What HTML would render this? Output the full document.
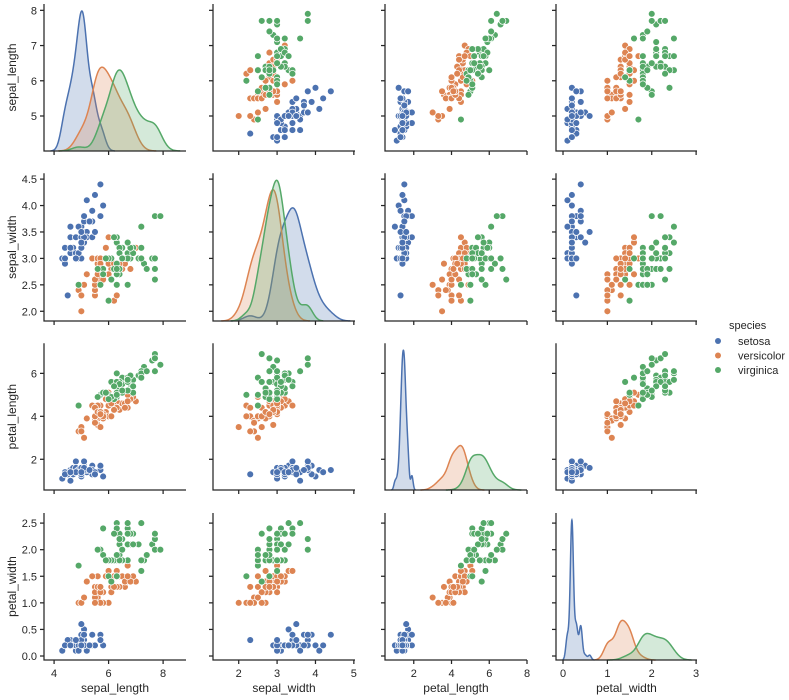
<!DOCTYPE html>
<html><head><meta charset="utf-8">
<style>
html,body{margin:0;padding:0;background:#fff;}
svg{display:block;font-family:"Liberation Sans","DejaVu Sans",sans-serif;}
</style></head>
<body>
<svg id="chart" width="789" height="700" xmlns="http://www.w3.org/2000/svg"></svg>
<script>
const variables = ["sepal_length","sepal_width","petal_length","petal_width"];
const speciesNames = ["setosa","versicolor","virginica"];
const speciesColors = ["#4c72b0","#dd8452","#55a868"];
const colTicks = [[4,6,8],[2,3,4,5],[2,4,6,8],[0,1,2,3]];
const rowTicks = [[5,6,7,8],[2.0,2.5,3.0,3.5,4.0,4.5],[2,4,6],[0.0,0.5,1.0,1.5,2.0,2.5]];
const rowTickLabels = [["5","6","7","8"],["2.0","2.5","3.0","3.5","4.0","4.5"],["2","4","6"],["0.0","0.5","1.0","1.5","2.0","2.5"]];
const colDomains = [[3.63,8.84],[1.33,5.03],[0.476,8.0],[-0.158,3.02]];
const rowDomains = [[4.006,8.18],[1.816,4.61],[0.57,7.40],[-0.075,2.69]];
const setosa = [[5.1,3.5,1.4,0.2],[4.9,3.0,1.4,0.2],[4.7,3.2,1.3,0.2],[4.6,3.1,1.5,0.2],[5.0,3.6,1.4,0.2],[5.4,3.9,1.7,0.4],[4.6,3.4,1.4,0.3],[5.0,3.4,1.5,0.2],[4.4,2.9,1.4,0.2],[4.9,3.1,1.5,0.1],[5.4,3.7,1.5,0.2],[4.8,3.4,1.6,0.2],[4.8,3.0,1.4,0.1],[4.3,3.0,1.1,0.1],[5.8,4.0,1.2,0.2],[5.7,4.4,1.5,0.4],[5.4,3.9,1.3,0.4],[5.1,3.5,1.4,0.3],[5.7,3.8,1.7,0.3],[5.1,3.8,1.5,0.3],[5.4,3.4,1.7,0.2],[5.1,3.7,1.5,0.4],[4.6,3.6,1.0,0.2],[5.1,3.3,1.7,0.5],[4.8,3.4,1.9,0.2],[5.0,3.0,1.6,0.2],[5.0,3.4,1.6,0.4],[5.2,3.5,1.5,0.2],[5.2,3.4,1.4,0.2],[4.7,3.2,1.6,0.2],[4.8,3.1,1.6,0.2],[5.4,3.4,1.5,0.4],[5.2,4.1,1.5,0.1],[5.5,4.2,1.4,0.2],[4.9,3.1,1.5,0.2],[5.0,3.2,1.2,0.2],[5.5,3.5,1.3,0.2],[4.9,3.6,1.4,0.1],[4.4,3.0,1.3,0.2],[5.1,3.4,1.5,0.2],[5.0,3.5,1.3,0.3],[4.5,2.3,1.3,0.3],[4.4,3.2,1.3,0.2],[5.0,3.5,1.6,0.6],[5.1,3.8,1.9,0.4],[4.8,3.0,1.4,0.3],[5.1,3.8,1.6,0.2],[4.6,3.2,1.4,0.2],[5.3,3.7,1.5,0.2],[5.0,3.3,1.4,0.2]];
const versicolor = [[7.0,3.2,4.7,1.4],[6.4,3.2,4.5,1.5],[6.9,3.1,4.9,1.5],[5.5,2.3,4.0,1.3],[6.5,2.8,4.6,1.5],[5.7,2.8,4.5,1.3],[6.3,3.3,4.7,1.6],[4.9,2.4,3.3,1.0],[6.6,2.9,4.6,1.3],[5.2,2.7,3.9,1.4],[5.0,2.0,3.5,1.0],[5.9,3.0,4.2,1.5],[6.0,2.2,4.0,1.0],[6.1,2.9,4.7,1.4],[5.6,2.9,3.6,1.3],[6.7,3.1,4.4,1.4],[5.6,3.0,4.5,1.5],[5.8,2.7,4.1,1.0],[6.2,2.2,4.5,1.5],[5.6,2.5,3.9,1.1],[5.9,3.2,4.8,1.8],[6.1,2.8,4.0,1.3],[6.3,2.5,4.9,1.5],[6.1,2.8,4.7,1.2],[6.4,2.9,4.3,1.3],[6.6,3.0,4.4,1.4],[6.8,2.8,4.8,1.4],[6.7,3.0,5.0,1.7],[6.0,2.9,4.5,1.5],[5.7,2.6,3.5,1.0],[5.5,2.4,3.8,1.1],[5.5,2.4,3.7,1.0],[5.8,2.7,3.9,1.2],[6.0,2.7,5.1,1.6],[5.4,3.0,4.5,1.5],[6.0,3.4,4.5,1.6],[6.7,3.1,4.7,1.5],[6.3,2.3,4.4,1.3],[5.6,3.0,4.1,1.3],[5.5,2.5,4.0,1.3],[5.5,2.6,4.4,1.2],[6.1,3.0,4.6,1.4],[5.8,2.6,4.0,1.2],[5.0,2.3,3.3,1.0],[5.6,2.7,4.2,1.3],[5.7,3.0,4.2,1.2],[5.7,2.9,4.2,1.3],[6.2,2.9,4.3,1.3],[5.1,2.5,3.0,1.1],[5.7,2.8,4.1,1.3]];
const virginica = [[6.3,3.3,6.0,2.5],[5.8,2.7,5.1,1.9],[7.1,3.0,5.9,2.1],[6.3,2.9,5.6,1.8],[6.5,3.0,5.8,2.2],[7.6,3.0,6.6,2.1],[4.9,2.5,4.5,1.7],[7.3,2.9,6.3,1.8],[6.7,2.5,5.8,1.8],[7.2,3.6,6.1,2.5],[6.5,3.2,5.1,2.0],[6.4,2.7,5.3,1.9],[6.8,3.0,5.5,2.1],[5.7,2.5,5.0,2.0],[5.8,2.8,5.1,2.4],[6.4,3.2,5.3,2.3],[6.5,3.0,5.5,1.8],[7.7,3.8,6.7,2.2],[7.7,2.6,6.9,2.3],[6.0,2.2,5.0,1.5],[6.9,3.2,5.7,2.3],[5.6,2.8,4.9,2.0],[7.7,2.8,6.7,2.0],[6.3,2.7,4.9,1.8],[6.7,3.3,5.7,2.1],[7.2,3.2,6.0,1.8],[6.2,2.8,4.8,1.8],[6.1,3.0,4.9,1.8],[6.4,2.8,5.6,2.1],[7.2,3.0,5.8,1.6],[7.4,2.8,6.1,1.9],[7.9,3.8,6.4,2.0],[6.4,2.8,5.6,2.2],[6.3,2.8,5.1,1.5],[6.1,2.6,5.6,1.4],[7.7,3.0,6.1,2.3],[6.3,3.4,5.6,2.4],[6.4,3.1,5.5,1.8],[6.0,3.0,4.8,1.8],[6.9,3.1,5.4,2.1],[6.7,3.1,5.6,2.4],[6.9,3.1,5.1,2.3],[5.8,2.7,5.1,1.9],[6.8,3.2,5.9,2.3],[6.7,3.3,5.7,2.5],[6.7,3.0,5.2,2.3],[6.3,2.5,5.0,1.9],[6.5,3.0,5.2,2.0],[6.2,3.4,5.4,2.3],[5.9,3.0,5.1,1.8]];
const groups = [setosa, versicolor, virginica];

const NS = "http://www.w3.org/2000/svg";
const svg = document.getElementById("chart");
const colPx = [[44,186],[213,355],[385,527],[556,697]];
const rowPx = [[151,4],[321,173.3],[490,343.3],[660,513]];
const INK = "#262626";
function mk(tag, attrs, parent){const e=document.createElementNS(NS,tag);for(const k in attrs)e.setAttribute(k,attrs[k]);(parent||svg).appendChild(e);return e;}
function sx(c,v){const d=colDomains[c],p=colPx[c];return p[0]+(v-d[0])/(d[1]-d[0])*(p[1]-p[0]);}
function sy(r,v){const d=rowDomains[r],p=rowPx[r];return p[0]+(v-d[0])/(d[1]-d[0])*(p[1]-p[0]);}
function quant(s,q){const pos=(s.length-1)*q,lo=Math.floor(pos),hi=Math.ceil(pos);return s[lo]+(s[hi]-s[lo])*(pos-lo);}

function kde(vals){
  const n=vals.length, m=vals.reduce((a,b)=>a+b,0)/n;
  const sd=Math.sqrt(vals.reduce((a,b)=>a+(b-m)*(b-m),0)/(n-1));
  const s=[...vals].sort((a,b)=>a-b);
  const iqr=quant(s,0.75)-quant(s,0.25);
  let a=Math.min(sd,iqr/1.349); if(!(a>0)) a=sd;
  const bw=1.059*a*Math.pow(n,-0.2);
  const lo=s[0]-3*bw, hi=s[n-1]+3*bw;
  const xs=[],ys=[];
  for(let i=0;i<300;i++){const x=lo+(hi-lo)*i/299;let t=0;for(const v of vals){const z=(x-v)/bw;t+=Math.exp(-0.5*z*z);}xs.push(x);ys.push(t/(n*bw*Math.sqrt(2*Math.PI)));}
  return {xs,ys};
}

for(let r=0;r<4;r++){
  for(let c=0;c<4;c++){
    const g=mk("g",{});
    
    
    if(r===c){
      const ks=groups.map(gr=>kde(gr.map(d=>d[c])));
      let mx=0;ks.forEach(k=>k.ys.forEach(y=>{if(y>mx)mx=y;}));
      const top=mx*1.05, y0=rowPx[r][0], y1=rowPx[r][1];
      const py=v=>y0+(v/top)*(y1-y0);
      ks.forEach((k,s)=>{
        let pts=k.xs.map((x,i)=>sx(c,x).toFixed(2)+","+py(k.ys[i]).toFixed(2));
        const area=mk("path",{d:"M"+sx(c,k.xs[0]).toFixed(2)+","+y0+" L"+pts.join(" L")+" L"+sx(c,k.xs[k.xs.length-1]).toFixed(2)+","+y0+" Z",fill:speciesColors[s],"fill-opacity":0.25,stroke:"none"},g);
        
        
        const line=mk("path",{d:"M"+pts.join(" L"),fill:"none",stroke:speciesColors[s],"stroke-width":1.5},g);
        
        
      });
    } else {
      groups.forEach((gr,s)=>{
        gr.forEach(d=>{
          const p=mk("circle",{cx:sx(c,d[c]).toFixed(2),cy:sy(r,d[r]).toFixed(2),r:3.4,fill:speciesColors[s],stroke:"#fff","stroke-width":0.7},g);
          
          
        });
      });
    }
    const xl=colPx[c][0], xr=colPx[c][1], yb=rowPx[r][0], yt=rowPx[r][1];
    const sp=mk("path",{d:`M${xl},${yt} L${xl},${yb} L${xr},${yb}`,fill:"none",stroke:INK,"stroke-width":1.25},g);
    
    
    colTicks[c].forEach(t=>{
      const x=sx(c,t);
      mk("line",{x1:x,x2:x,y1:yb,y2:yb+4,stroke:INK,"stroke-width":1.25},g);
      if(r===3){
        const tl=mk("text",{x:x,y:yb+17,"text-anchor":"middle","font-size":11,fill:INK},g);
        tl.textContent=String(t);
        
        
      }
    });
    rowTicks[r].forEach((t,i)=>{
      const y=sy(r,t);
      mk("line",{x1:xl-4,x2:xl,y1:y,y2:y,stroke:INK,"stroke-width":1.25},g);
      if(c===0){
        const tl=mk("text",{x:xl-7,y:y+4,"text-anchor":"end","font-size":11,fill:INK},g);
        tl.textContent=rowTickLabels[r][i];
        
        
      }
    });
  }
}
variables.forEach((v,i)=>{
  const cx=(colPx[i][0]+colPx[i][1])/2;
  const xt=mk("text",{x:cx,y:692,"text-anchor":"middle","font-size":12,fill:INK});
  xt.textContent=v;
  
  
  const cy=(rowPx[i][0]+rowPx[i][1])/2;
  const yt=mk("text",{x:0,y:0,"text-anchor":"middle","font-size":12,fill:INK,transform:`translate(16,${cy}) rotate(-90)`});
  yt.textContent=v;
  
  
});
const lg=mk("g",{});


const lt=mk("text",{x:729,y:329,"font-size":11,fill:INK},lg);
lt.textContent="species";


speciesNames.forEach((s,i)=>{
  const y=341+i*14.5;
  const e=mk("g",{},lg);
  
  
  mk("circle",{cx:718,cy:y,r:3,fill:speciesColors[i]},e);
  const t=mk("text",{x:738,y:y+4,"font-size":11,fill:INK},e);
  t.textContent=s;
});
</script>
</body></html>
